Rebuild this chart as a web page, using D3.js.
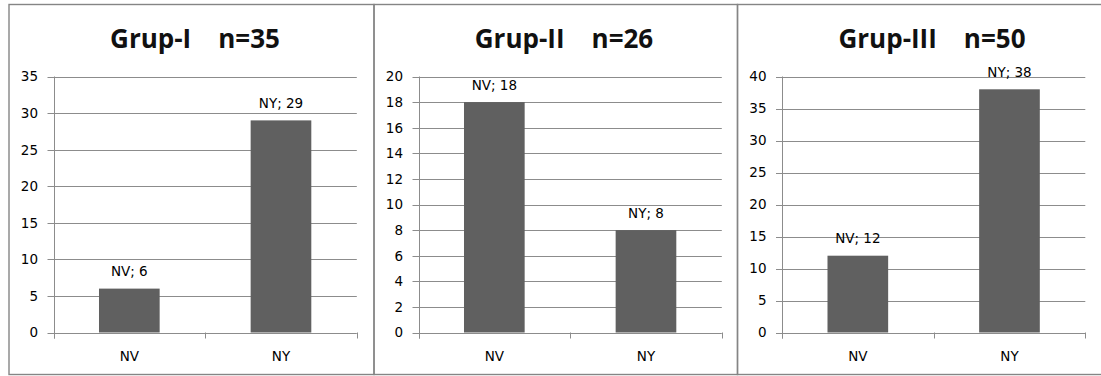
<!DOCTYPE html>
<html>
<head>
<meta charset="utf-8">
<script src="https://cdn.jsdelivr.net/npm/d3@7"></script>
<style>
  html, body { margin: 0; padding: 0; background: #fff; }
  svg { display: block; }
  .tick-label, .cat-label, .val-label { font-family: "DejaVu Sans", sans-serif; font-size: 13.5px; fill: #000; }
  .title { font-family: "Open Sans", sans-serif; font-weight: 700; font-size: 26px; fill: #111; }
</style>
</head>
<body>
<svg id="chart" width="1101" height="376"></svg>
<script>
// Group names and sample sizes
const groupNames = ["Grup-I", "Grup-II", "Grup-III"];
const groupN = [35, 26, 50];

// Categories shown on each x axis
const categories = ["NV", "NY"];

// Counts per group
const nvCounts = [6, 18, 12];
const nyCounts = [29, 8, 38];

// Y-axis tick labels per group
const yTicksI = [0, 5, 10, 15, 20, 25, 30, 35];
const yTicksII = [0, 2, 4, 6, 8, 10, 12, 14, 16, 18, 20];
const yTicksIII = [0, 5, 10, 15, 20, 25, 30, 35, 40];
const yTickSets = [yTicksI, yTicksII, yTicksIII];

const svg = d3.select("#chart");

const panelLefts = [9, 374, 737.5];
const panelRight = 1106;
const panelTop = 4.5, panelBottom = 374.5;
const plotOffset = 44.5, plotWidth = 303.3;
const yTop = 76.5, yZero = 332.5;
const titleCenters = [195, 564, 932];

const gridColor = "#8c8c8c";
const barColor = "#606060";

groupNames.forEach((name, i) => {
  const left = panelLefts[i];
  const right = i < 2 ? panelLefts[i + 1] : panelRight;
  const g = svg.append("g");

  // panel frame
  g.append("rect")
    .attr("x", left).attr("y", panelTop)
    .attr("width", right - left).attr("height", panelBottom - panelTop)
    .attr("fill", "none").attr("stroke", "#858585").attr("stroke-width", 1.4);

  // title
  g.append("text").attr("class", "title")
    .attr("x", titleCenters[i]).attr("y", 48)
    .attr("text-anchor", "middle")
    .text(name + "\u00a0\u00a0\u00a0\u00a0n=" + groupN[i]);

  const x0 = left + plotOffset, x1 = x0 + plotWidth;
  const ticks = yTickSets[i];
  const y = d3.scaleLinear().domain([0, d3.max(ticks)]).range([yZero, yTop]);
  const x = d3.scaleBand().domain(categories).range([x0, x1])
    .paddingInner(0.6).paddingOuter(0.3);

  // horizontal gridlines and left tick marks
  g.selectAll(".grid").data(ticks).join("line")
    .attr("x1", x0 - 6).attr("x2", x1)
    .attr("y1", d => Math.round(y(d)) + 0.5).attr("y2", d => Math.round(y(d)) + 0.5)
    .attr("stroke", gridColor).attr("stroke-width", 1);

  // y tick labels
  g.selectAll(".tick-label").data(ticks).join("text")
    .attr("class", "tick-label")
    .attr("x", x0 - 15.5).attr("y", d => y(d))
    .attr("dy", "0.36em").attr("text-anchor", "end")
    .text(d => d);

  // vertical axis line
  g.append("line")
    .attr("x1", Math.round(x0) + 0.5).attr("x2", Math.round(x0) + 0.5)
    .attr("y1", yTop).attr("y2", yZero + 6)
    .attr("stroke", gridColor);

  // category separators below the baseline
  const sepX = [x0, (x0 + x1) / 2, x1];
  g.selectAll(".sep").data(sepX).join("line")
    .attr("x1", d => Math.round(d) + 0.5).attr("x2", d => Math.round(d) + 0.5)
    .attr("y1", yZero).attr("y2", yZero + 6)
    .attr("stroke", gridColor);

  // bars
  const values = [nvCounts[i], nyCounts[i]];
  const data = categories.map((c, k) => ({ cat: c, value: values[k] }));

  g.selectAll(".bar").data(data).join("rect")
    .attr("x", d => x(d.cat)).attr("width", x.bandwidth())
    .attr("y", d => y(d.value)).attr("height", d => y(0) - y(d.value))
    .attr("fill", barColor);

  // value labels
  g.selectAll(".val-label").data(data).join("text")
    .attr("class", "val-label")
    .attr("x", d => x(d.cat) + x.bandwidth() / 2)
    .attr("y", d => y(d.value) - 12.5)
    .attr("text-anchor", "middle")
    .text(d => d.cat + "; " + d.value);

  // category labels
  g.selectAll(".cat-label").data(categories).join("text")
    .attr("class", "cat-label")
    .attr("x", d => x(d) + x.bandwidth() / 2)
    .attr("y", 360.5)
    .attr("text-anchor", "middle")
    .text(d => d);
});
</script>
</body>
</html>
